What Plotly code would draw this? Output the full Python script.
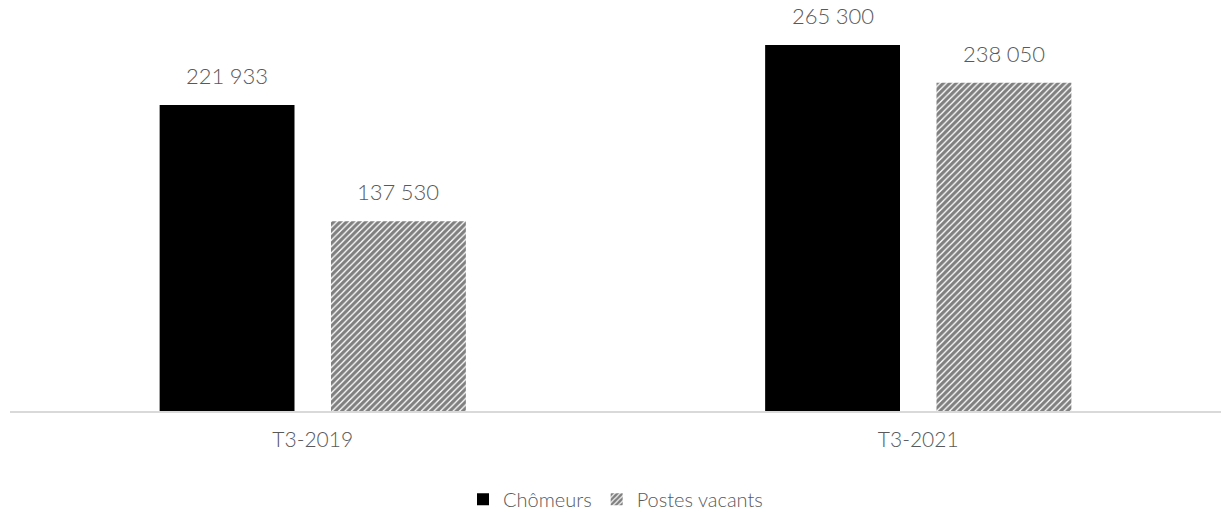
import plotly.graph_objects as go

# Quarterly figures: unemployed vs. vacant positions
categories = ["T3-2019", "T3-2021"]
chomeurs = [221933, 265300]
postes_vacants = [137530, 238050]

TEXT = "#595959"
FONT = "Lato"

W, H = 1221, 514
ML, MR, MT, MB = 10, 0, 11, 103
BARGAP, GROUPGAP = 0.434, 0.213


def fmt(v):
    return f"{v:,}".replace(",", "\u202f")


fig = go.Figure()
fig.add_bar(
    name="Chômeurs", x=categories, y=chomeurs,
    marker=dict(color="#000000", line=dict(width=0)),
)
fig.add_bar(
    name="Postes vacants", x=categories, y=postes_vacants,
    marker=dict(color="#ffffff", line=dict(width=0),
                pattern=dict(shape="/", size=4.5, solidity=0.7,
                             fgcolor="#000000", bgcolor="#ffffff")),
)

# value labels above each bar, offset to the bar's slot within its group
plot_w = W - ML - MR
slot = plot_w / len(categories) * (1 - BARGAP) / 2
for series, sign in ((chomeurs, -1), (postes_vacants, 1)):
    for cat, v in zip(categories, series):
        fig.add_annotation(
            x=cat, y=v, xref="x", yref="y", text=fmt(v), showarrow=False,
            xshift=sign * slot / 2, yanchor="bottom", yshift=14,
            font=dict(size=22, color=TEXT, family=FONT, weight=300),
        )

fig.update_layout(
    width=W, height=H,
    margin=dict(l=ML, r=MR, t=MT, b=MB, autoexpand=False),
    paper_bgcolor="white", plot_bgcolor="white",
    barmode="group", bargap=BARGAP, bargroupgap=GROUPGAP,
    font=dict(family=FONT, color=TEXT, size=20, weight=300),
    showlegend=True,
    legend=dict(orientation="h", x=0.5, xanchor="center", y=-0.172, yanchor="top",
                font=dict(size=20, color=TEXT, family=FONT, weight=300),
                itemwidth=30),
)
fig.update_xaxes(showline=True, linecolor="#d9d9d9", linewidth=2,
                 ticks="", ticklabelstandoff=9,
                 tickfont=dict(size=21, color=TEXT, family=FONT, weight=300))
fig.update_yaxes(range=[0, 290000], visible=False, showgrid=False, zeroline=False)

fig.write_html("out.html")
